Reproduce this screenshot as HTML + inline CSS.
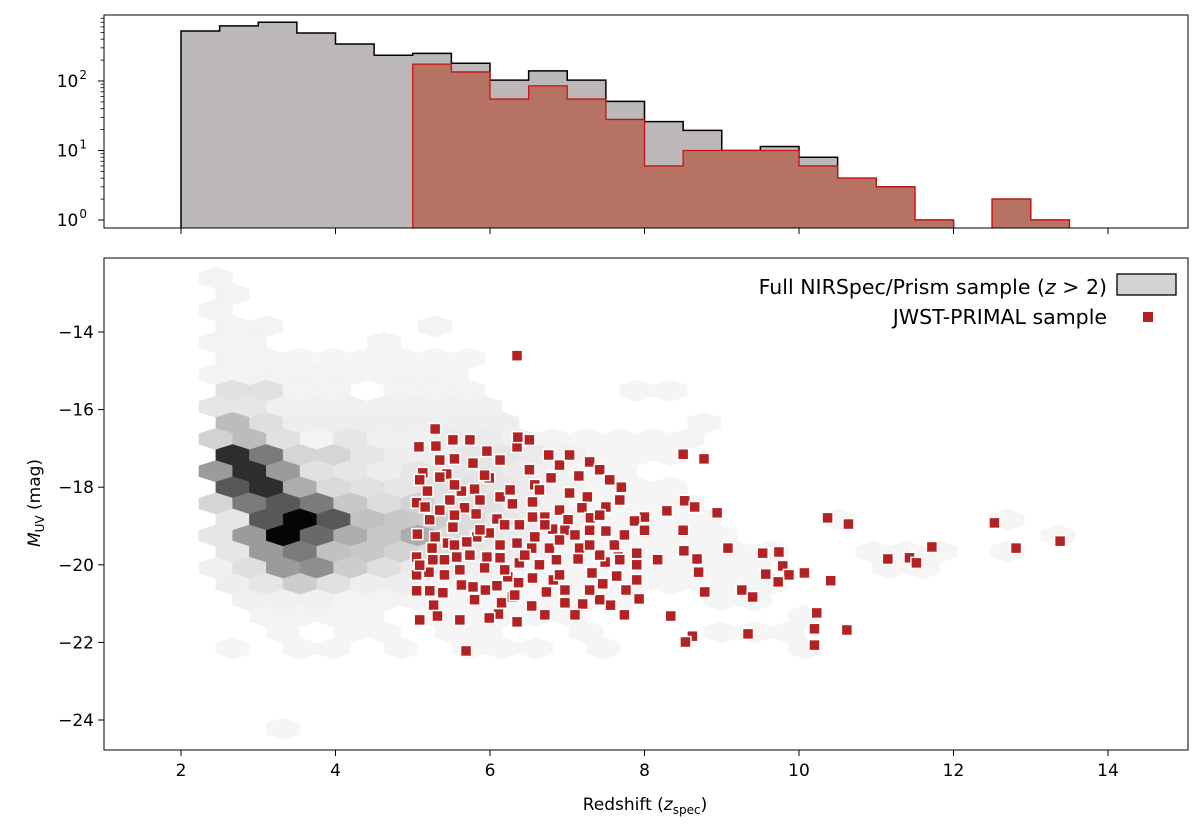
<!DOCTYPE html>
<html><head><meta charset="utf-8"><style>
html,body{margin:0;padding:0;background:#fff;}
svg{display:block;font-family:"DejaVu Sans","Liberation Sans",sans-serif;}
</style></head><body>
<svg id="chart" width="1200" height="830" viewBox="0 0 1200 830" xmlns="http://www.w3.org/2000/svg"></svg>
<script>
// ---------- data ----------
const histBinStart = 2.0;
const histBinWidth = 0.5;
const fullCounts = [525,620,700,490,340,235,250,180,103,140,103,51,26,19.5,10,11.4,8,4,3,1,0,2,1];
const primalBinStart = 5.0;
const primalCounts = [175,135,55,85,55,28,6,10,10,10,6,4,3,1,0,2,1];
const xTicks = [2,4,6,8,10,12,14];
const histYTicks = [0,1,2];
const muvTicks = [-14,-16,-18,-20,-22,-24];
// hexbin grid: origin, step; rows of darkness levels (0 = empty)
const hexZ0 = 2.45, hexDz = 0.436, hexM0 = -12.608, hexDm = 0.415;
const hexGrid = [
 [.05],[.05],[.05],
 [.05,.05,0,0,0,0,.05],
 [.05,.05,0,0,0,.05],
 [.05,.05,.04,.04,.04,.04,.04,.04],
 [.05,.05,.05,.05,.05,.05,.05,.05],
 [.12,.12,.05,.05,0,.05,.05,.05,0,0,0,0,.04,.04],
 [.1,.1,.06,.06,.06,.06,.06,.06,.06],
 [.27,.13,.07,.07,.07,.07,.07,.07,.07,0,0,0,0,0,.04],
 [.18,.27,.12,.05,.1,.06,.06,.08,.08,.06,.05,.04,.04,.04,.04],
 [.84,.53,.17,.17,.1,.07,.07,.1,.1,.08,.06,.04,.04,.04],
 [.4,.84,.4,.12,.1,.07,.1,.1,.1,.08,.06,.04,.04],
 [.67,.84,.33,.15,.12,.1,.12,.12,.1,.08,.06,.04,.04,.04],
 [.17,.53,.67,.53,.22,.14,.18,.12,.12,.08,.06,.04,.04,.04,.04],
 [.1,.67,1,.67,.25,.22,.2,.14,.1,.08,.06,.04,.04,.04,.04,0,0,0,.04,0,0,0,0,.04],
 [.1,.4,1,.6,.33,.22,.33,.14,.1,.08,.06,.04,.04,.04,.04,.04,0,0,0,0,0,0,0,0,0,.04],
 [.1,.4,.53,.25,.22,.18,.14,.1,.08,.06,.05,.04,.04,.04,.04,.04,.04,0,0,.04,.04,.04,0,.04],
 [.06,.13,.4,.45,.2,.13,.08,.08,.06,.05,.04,.04,.04,.04,.04,.04,.04,0,0,0,.04,.04],
 [.07,.1,.2,.12,.07,.07,.05,.05,.05,.04,.04,.04,.04,.04,.04,.04,.04],
 [0,.06,.06,.06,.05,.05,.05,.04,.04,.04,.04,.04,.04,0,0,.04,.04],
 [0,.05,.05,.05,.04,0,.04,.04,.04,.04,.04,0,0,0,0,0,0,.04],
 [0,0,.04,0,.04,.04,0,.04,.04,0,0,.04,0,0,0,.04,.04,.04],
 [.04,0,.04,.04,0,.04,0,.04,.04,.04,0,.04,0,0,0,0,0,.04],
 [],[],[],[],
 [0,0,.04]
];
// JWST-PRIMAL points
const primalZ = [6.35,8.50,8.77,7.70,7.50,8.29,8.52,8.65,8.94,8.00,7.87,8.50,7.50,8.00,7.60,9.08,8.51,8.68,8.17,7.90,7.49,7.66,7.90,9.53,9.74,9.79,9.57,9.87,10.07,9.73,10.41,8.70,8.78,7.63,7.90,7.47,7.76,7.93,7.56,9.26,9.40,8.34,10.23,8.62,8.53,9.34,10.20,10.62,10.20,10.37,10.64,11.15,11.43,11.52,11.72,12.53,12.81,13.38,
 5.29,5.52,5.08,5.30,5.96,6.35,6.36,5.54,5.78,6.76,7.29,5.13,5.44,5.99,6.79,7.15,6.58,5.19,5.63,5.80,6.13,7.03,5.05,5.48,6.29,6.55,7.26,5.67,5.82,6.90,7.19,5.22,6.09,6.55,6.71,7.01,7.30,5.52,6.81,6.97,7.29,5.06,5.29,5.83,5.99,6.35,5.45,5.70,6.58,5.25,6.54,6.77,7.16,7.61,5.57,5.96,6.13,6.38,6.86,7.14,5.26,5.21,5.93,6.23,6.55,6.82,7.32,7.64,5.05,5.22,5.39,5.63,5.78,5.94,6.09,6.37,6.73,6.97,7.46,5.27,6.15,6.29,6.54,6.97,7.20,5.32,6.11,6.35,5.99,5.35,5.05,5.05,5.69,
 5.54,6.38,5.61,6.64,7.42,6.26,5.87,5.41,5.16,7.10,
 5.74,6.13,6.51,6.90,7.42,7.68,5.54,6.19,5.35,5.87,6.45,6.90,7.29,7.68,5.41,5.80,6.19,6.71,7.10,7.42,7.74,5.61,5.09,5.93,6.51,7.03,7.55,7.42,7.74,6.64,6.13,5.74,5.09,5.35,6.32,7.29,6.71,5.09,5.54,6.90];
const primalMuv = [-14.61,-17.15,-17.27,-18.00,-18.51,-18.61,-18.35,-18.51,-18.66,-18.77,-18.87,-19.11,-19.13,-19.11,-19.49,-19.57,-19.64,-19.85,-19.87,-19.70,-19.93,-19.80,-20.00,-19.70,-19.67,-20.03,-20.24,-20.26,-20.21,-20.44,-20.41,-20.19,-20.70,-20.31,-20.39,-20.46,-20.65,-20.88,-21.04,-20.65,-20.83,-21.32,-21.24,-21.84,-21.99,-21.78,-21.65,-21.68,-22.07,-18.79,-18.95,-19.85,-19.82,-19.95,-19.54,-18.92,-19.57,-19.39,
 -16.50,-16.78,-16.96,-16.94,-17.07,-16.96,-16.71,-17.27,-17.38,-17.17,-17.35,-17.63,-17.66,-17.76,-17.76,-17.71,-17.94,-18.10,-18.10,-18.05,-18.25,-18.15,-18.40,-18.33,-18.43,-18.38,-18.25,-18.53,-18.69,-18.59,-18.53,-18.84,-18.82,-18.77,-18.77,-18.84,-18.79,-19.03,-19.08,-19.11,-19.11,-19.21,-19.28,-19.28,-19.18,-19.44,-19.44,-19.41,-19.28,-19.57,-19.57,-19.57,-19.57,-19.49,-19.80,-19.80,-19.82,-19.95,-19.87,-19.85,-19.87,-20.19,-20.08,-20.31,-20.34,-20.39,-20.21,-20.29,-20.67,-20.67,-20.72,-20.52,-20.57,-20.65,-20.54,-20.46,-20.70,-20.65,-20.49,-21.04,-20.98,-20.83,-21.06,-20.98,-21.01,-21.32,-21.27,-21.47,-21.37,-17.74,-19.80,-20.26,-22.22,
 -18.72,-18.97,-20.13,-20.00,-19.75,-18.07,-18.33,-19.87,-18.51,-19.23,
 -16.78,-17.30,-17.55,-17.43,-17.55,-18.33,-17.94,-18.97,-18.59,-19.10,-19.75,-19.36,-19.49,-19.87,-20.26,-20.90,-20.13,-21.29,-21.29,-20.90,-21.29,-21.42,-21.42,-17.69,-16.78,-17.17,-17.81,-18.72,-19.23,-18.07,-19.49,-19.75,-17.81,-17.30,-20.78,-20.65,-18.97,-20.01,-19.49,-20.26];

// ---------- layout ----------
const NS = "http://www.w3.org/2000/svg";
const svg = document.getElementById("chart");
const L = 104, R = 1188;
const topT = 15, topB = 228, botT = 258, botB = 750;
const xs = z => 181 + (z - 2) * 77.25;
const ysHist = v => 220 - 69.5 * Math.log10(v);
const ysMuv = m => 332 + (-14 - m) * 38.8;

function el(tag, attrs, parent) {
  const e = document.createElementNS(NS, tag);
  for (const k in attrs) e.setAttribute(k, attrs[k]);
  (parent || svg).appendChild(e);
  return e;
}

// ---------- top histogram panel ----------
const topG = el("g", {});


const cpt = el("clipPath", {id: "clipTop"}, topG);
el("rect", {x: L, y: topT, width: R - L, height: topB - topT}, cpt);

function histPath(start, counts) {
  let d = "";
  let pen = false;
  counts.forEach((c, i) => {
    const x0 = xs(start + i * histBinWidth), x1 = xs(start + (i + 1) * histBinWidth);
    const y = c > 0 ? ysHist(c) : topB + 5;
    if (!pen) { d += `M${x0},${topB + 5}`; pen = true; }
    d += `L${x0},${y}L${x1},${y}`;
  });
  const xe = xs(start + counts.length * histBinWidth);
  d += `L${xe},${topB + 5}Z`;
  return d;
}
const fullHist = el("path", {d: histPath(histBinStart, fullCounts), fill: "#bcb8b9", stroke: "#000", "stroke-width": 1.5, "clip-path": "url(#clipTop)"}, topG);


const primHist = el("path", {d: histPath(primalBinStart, primalCounts), fill: "#b67262", stroke: "#cc1111", "stroke-width": 1.3, "clip-path": "url(#clipTop)"}, topG);


const topFrame = el("rect", {x: L, y: topT, width: R - L, height: topB - topT, fill: "none", stroke: "#000", "stroke-width": 1}, topG);


xTicks.forEach(t => {
  const tk = el("line", {x1: xs(t), x2: xs(t), y1: topB, y2: topB + 6, stroke: "#000", "stroke-width": 1}, topG);
  
  
});
histYTicks.forEach(p => {
  const y = ysHist(Math.pow(10, p));
  const tk = el("line", {x1: L - 6, x2: L, y1: y, y2: y, stroke: "#000", "stroke-width": 1}, topG);
  
  
  for (let k = 2; k <= 9; k++) {
    const ym = ysHist(k * Math.pow(10, p));
    if (ym > topT && ym < topB) {
      const mt = el("line", {x1: L - 3.5, x2: L, y1: ym, y2: ym, stroke: "#000", "stroke-width": 0.8}, topG);
      
      
    }
  }
  const tx = el("text", {x: L - 17, y: y + 6, "font-size": 17, "text-anchor": "end", fill: "#000"}, topG);
  
  
  tx.textContent = "10";
  const sup = el("tspan", {dx: 1, dy: -8, "font-size": 12}, tx);
  sup.textContent = String(p);
});

// ---------- bottom panel ----------
const botG = el("g", {});


const cp = el("clipPath", {id: "clipBot"}, botG);
el("rect", {x: L, y: botT, width: R - L, height: botB - botT}, cp);
const hexG = el("g", {"clip-path": "url(#clipBot)"}, botG);


const hw = (xs(hexZ0 + hexDz) - xs(hexZ0)) / 2;
const rowPx = ysMuv(hexM0 - hexDm) - ysMuv(hexM0);
const vv = rowPx * 2 / 3, ss = rowPx / 3;
hexGrid.forEach((row, r) => {
  row.forEach((lvl, c) => {
    if (!lvl) return;
    const z = hexZ0 + hexDz * (c + (r % 2) * 0.5);
    const m = hexM0 - hexDm * r;
    const cx = xs(z), cy = ysMuv(m);
    const g = Math.round(255 * (1 - lvl * 0.98));
    const pts = [[0,-vv],[hw,-ss],[hw,ss],[0,vv],[-hw,ss],[-hw,-ss]].map(p => (cx + p[0]).toFixed(1) + "," + (cy + p[1]).toFixed(1)).join(" ");
    const h = el("polygon", {points: pts, fill: `rgb(${g},${g},${g})`, stroke: `rgb(${g},${g},${g})`, "stroke-width": 0.4}, hexG);
    
    
  });
});
const ptG = el("g", {"clip-path": "url(#clipBot)"}, botG);


const ms = 11;
primalZ.forEach((z, i) => {
  const cx = xs(z), cy = ysMuv(primalMuv[i]);
  const p = el("rect", {x: cx - ms / 2, y: cy - ms / 2, width: ms, height: ms, fill: "#b22222", stroke: "#fff", "stroke-width": 1.5}, ptG);
  
  
});
const botFrame = el("rect", {x: L, y: botT, width: R - L, height: botB - botT, fill: "none", stroke: "#000", "stroke-width": 1}, botG);


xTicks.forEach(t => {
  const tk = el("line", {x1: xs(t), x2: xs(t), y1: botB, y2: botB + 6, stroke: "#000", "stroke-width": 1}, botG);
  
  
  const tx = el("text", {x: xs(t), y: botB + 26, "font-size": 17, "text-anchor": "middle", fill: "#000"}, botG);
  
  
  tx.textContent = String(t);
});
muvTicks.forEach(t => {
  const y = ysMuv(t);
  const tk = el("line", {x1: L - 6, x2: L, y1: y, y2: y, stroke: "#000", "stroke-width": 1}, botG);
  
  
  const tx = el("text", {x: L - 10, y: y + 6, "font-size": 17, "text-anchor": "end", fill: "#000"}, botG);
  
  
  tx.textContent = "\u2212" + String(Math.abs(t));
});
</script>
<script>
(function(){
const NS = "http://www.w3.org/2000/svg";
const svg = document.getElementById("chart");
function txt(attrs, content) {
  const e = document.createElementNS(NS, "text");
  for (const k in attrs) e.setAttribute(k, attrs[k]);
  e.innerHTML = content;
  svg.appendChild(e);
  return e;
}
const xl = txt({x: 645, y: 810, "font-size": 17, "text-anchor": "middle"}, 'Redshift (<tspan font-style="italic">z</tspan><tspan font-size="12" dy="4">spec</tspan><tspan dy="-4">)</tspan>');


const yl = txt({x: 0, y: 0, "font-size": 17, "text-anchor": "middle", transform: "translate(40,503) rotate(-90)"}, '<tspan font-style="italic">M</tspan><tspan font-size="12" dy="4">UV</tspan><tspan dy="-4"> (mag)</tspan>');


const l1 = txt({x: 1107, y: 294, "font-size": 20.5, "text-anchor": "end"}, 'Full NIRSpec/Prism sample (<tspan font-style="italic">z</tspan> &gt; 2)');


const p1 = document.createElementNS(NS, "rect");
p1.setAttribute("x", 1117); p1.setAttribute("y", 274); p1.setAttribute("width", 59); p1.setAttribute("height", 21);
p1.setAttribute("fill", "#d3d3d3"); p1.setAttribute("stroke", "#000"); p1.setAttribute("stroke-width", 1.3);
svg.appendChild(p1);


const l2 = txt({x: 1107, y: 324, "font-size": 20.5, "text-anchor": "end"}, 'JWST-PRIMAL sample');


const p2 = document.createElementNS(NS, "rect");
p2.setAttribute("x", 1143); p2.setAttribute("y", 312); p2.setAttribute("width", 10); p2.setAttribute("height", 10);
p2.setAttribute("fill", "#b22222");
svg.appendChild(p2);


})();
</script>
</body></html>
